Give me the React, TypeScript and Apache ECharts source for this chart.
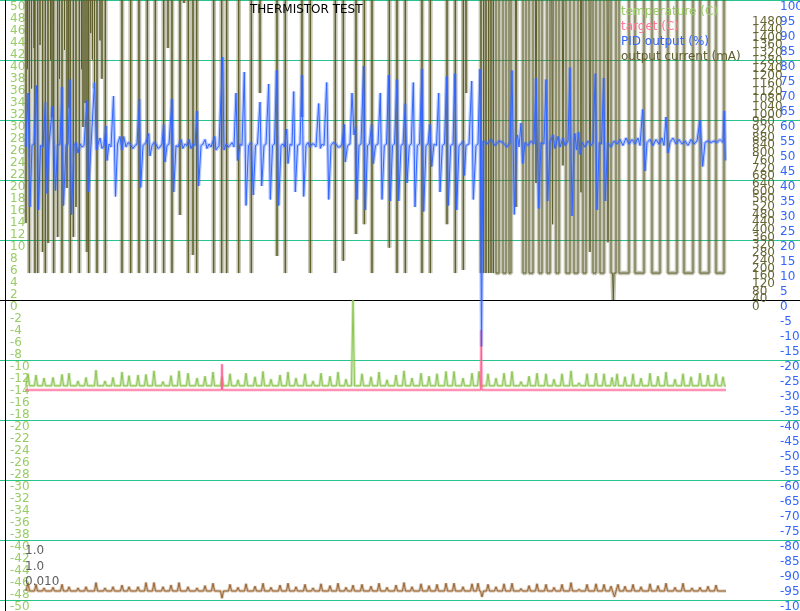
import React, { useEffect, useRef } from "react";
import * as echarts from "echarts";

const FONT = "DejaVu Sans, Verdana, sans-serif";

// x unit: sample time (t), y units: per axis
const TEMP_BASE = -14.3;
const tempSpikes: [number, number][] = [
  [3, -12.3], [11, -12.5], [19, -13.0], [28, -12.9], [37, -12.4], [44, -12.2], [53, -13.5], [61, -12.9],
  [71, -11.7], [80, -13.5], [88, -12.9], [97, -12.0], [104, -12.6], [113, -12.5], [121, -12.4], [129, -11.8],
  [138, -13.6], [146, -12.6], [154, -11.8], [163, -12.2], [172, -13.0], [180, -12.7], [188, -12.0], [197, -12.8],
  [205, -12.3], [213, -13.3], [221, -12.2], [230, -12.8], [238, -11.9], [246, -13.2], [255, -12.5], [263, -12.0],
  [271, -13.0], [280, -12.3], [288, -13.5], [296, -12.2], [305, -12.7], [313, -12.0], [321, -13.2], [328, 0.0],
  [337, -12.3], [346, -12.8], [354, -12.0], [362, -13.3], [371, -12.5], [379, -11.8], [387, -13.0], [396, -12.2],
  [404, -12.7], [412, -12.3], [421, -11.9], [429, -11.9], [438, -13.0], [447, -12.2], [454, -11.9], [463, -12.3],
  [471, -13.0], [479, -12.2], [487, -11.9], [496, -13.6], [504, -12.7], [512, -12.2], [521, -12.3], [529, -13.2],
  [537, -12.3], [546, -11.8], [554, -13.8], [562, -12.3], [571, -12.2], [579, -12.3], [587, -12.9], [592, -12.3],
  [600, -12.8], [608, -12.3], [616, -13.0], [625, -12.2], [633, -12.7], [641, -12.0], [650, -13.2], [658, -12.3],
  [666, -12.8], [675, -12.2], [683, -12.5], [691, -12.3], [698, -12.8],
];

const BROWN_BASE = -48.5;
const brownSpikes: [number, number][] = [
  [3, -47.2], [11, -47.4], [19, -48.0], [28, -47.9], [37, -47.4], [44, -47.8], [53, -48.0], [61, -47.8],
  [71, -47.1], [80, -48.0], [88, -47.8], [97, -47.5], [104, -47.8], [113, -47.8], [121, -47.1], [129, -47.1],
  [138, -47.8], [146, -47.5], [154, -47.1], [163, -47.8], [172, -48.0], [180, -47.6], [188, -47.2], [197, -49.7],
  [205, -47.4], [213, -47.9], [221, -47.3], [230, -47.7], [238, -47.2], [246, -47.9], [255, -47.5], [263, -47.2],
  [271, -47.8], [280, -47.4], [288, -48.0], [296, -47.3], [305, -47.6], [313, -47.2], [321, -47.9], [328, -47.5],
  [337, -47.4], [346, -47.7], [354, -47.2], [362, -47.9], [371, -47.5], [379, -47.1], [387, -47.8], [396, -47.3],
  [404, -47.6], [412, -47.4], [421, -47.2], [429, -47.2], [438, -47.8], [447, -47.3], [453, -47.2], [457, -49.5],
  [463, -47.4], [471, -47.8], [479, -47.3], [487, -47.2], [496, -48.1], [504, -47.6], [512, -47.3], [521, -47.4],
  [529, -47.9], [537, -47.4], [546, -47.1], [554, -48.2], [562, -47.4], [571, -47.3], [579, -47.4], [586, -47.7],
  [589.5, -49.5], [593, -47.4], [600, -47.7], [608, -47.4], [616, -47.8], [625, -47.3], [633, -47.6], [641, -47.2],
  [650, -47.9], [658, -47.2], [667, -48.0], [675, -47.9], [683, -47.7], [691, -47.5],
];

const target: [number, number][] = [
  [0, -15], [196.5, -15], [197, -10.7], [197.5, -15], [455.7, -15], [456.2, -5], [456.9, -15], [701, -15],
];

const pidOutput: [number, number][] = [
  [1, 51], [3, 69], [5, 31], [7, 51.5], [9, 52], [11.5, 71.5], [13.5, 30], [15.5, 51.5], [18, 51], [20.5, 66], [22, 35.5],
  [24, 52], [27.5, 64.5], [30.5, 36.5], [32.5, 51.5], [35, 52], [37, 71], [38.5, 31.5], [41, 51.5], [43, 52], [45, 73.5],
  [46.5, 28.5], [49, 51.5], [51, 52.5], [53, 49], [55, 52], [57, 51], [59, 51.5], [62, 66.5], [63.5, 36], [66, 51.5],
  [69.5, 72.5], [71.5, 50], [73, 52], [75, 54], [77, 50.5], [79, 51.5], [81, 58], [82, 46.5], [84, 52], [86, 51],
  [88.5, 68], [90.5, 34.5], [92.5, 52], [95, 54.5], [97, 50], [98.7, 54.5], [101, 51], [103, 52.5], [105, 52], [108, 50.5],
  [110, 51.5], [112, 52], [114.5, 67], [115.7, 37.5], [118, 51.5], [121, 52.5], [123.7, 55.5], [125, 48], [127, 51.5],
  [129, 52.5], [131, 52], [133, 50.5], [135, 51], [137, 52], [138.7, 58.5], [140, 46], [142, 51.5], [144, 52], [147, 67],
  [148.7, 36], [151, 51.5], [153, 51], [156, 53.5], [158, 50.5], [160, 52], [162, 51.5], [164, 53.5], [166, 50.5],
  [168, 52], [170, 51.5], [172, 63], [173.7, 38], [176, 51.5], [178, 52], [180, 53.5], [182, 50.5], [184, 52], [186, 51],
  [189.7, 54.5], [191, 50], [194, 51.5], [197.7, 81], [199, 50], [201, 52], [203, 51], [205, 51.5], [207, 52.5], [209, 51],
  [211, 69], [212.7, 46.5], [215, 52], [217, 51.5], [219.3, 76], [221, 31.5], [223.5, 51.5], [226.3, 52.5], [228.3, 35],
  [230.5, 51.5], [232.5, 52], [235, 66], [236.7, 38], [239, 51.5], [241, 52], [243.7, 72], [245.3, 33.5], [247.5, 51.5],
  [249.5, 52], [251.7, 76.5], [253.7, 31.5], [256, 51.5], [258, 52], [259.5, 51], [261.7, 57], [263, 45.5], [265, 52],
  [267, 51.5], [268.7, 69.5], [270.3, 36], [272.5, 51.5], [275, 52], [277, 75], [278.7, 34.5], [281, 51.5], [283, 52.5],
  [285, 51], [287, 52], [289, 52], [291, 51], [293.7, 65.5], [295.3, 50.5], [297, 52], [299, 51.5], [301.7, 72.5],
  [303.7, 33.5], [306, 51.5], [308, 52.5], [311, 52], [313, 51], [315, 51], [317, 52], [319.3, 58.5], [320.3, 46],
  [322.5, 51.5], [325, 52], [327, 69], [329, 55], [330.5, 58], [332, 33.5], [334, 51.5], [336, 52], [338.7, 78],
  [340.3, 30], [342.5, 51.5], [344.5, 52], [346.7, 58.5], [348.3, 45.5], [350.5, 51.5], [353, 52], [355.3, 69],
  [357, 33.5], [359.3, 51.5], [361.5, 52], [363.7, 75], [365.3, 33], [367.5, 51.5], [369.5, 52], [372, 73.5], [373.7, 33],
  [376, 51.5], [378, 52], [380.3, 65.5], [382, 39], [384.3, 51.5], [386.3, 52], [388.3, 72.5], [390, 31], [392.3, 51.5],
  [394.5, 52], [397, 77], [398.7, 29.5], [401, 51.5], [403, 52], [405, 58.5], [406.7, 44.5], [409, 52], [411.5, 51.5],
  [413.7, 69], [415, 36], [417.3, 51.5], [419.5, 52], [421.7, 74.5], [423.3, 31.5], [425.7, 51.5], [428, 52], [430, 75.5],
  [431.7, 30], [434, 51.5], [436, 52], [438.3, 53], [439.3, 41.5], [441, 51.5], [444, 52], [446.7, 73], [448.3, 33.5],
  [451, 51.5], [453, 52], [455, 77], [456.5, -15.5], [458, 53], [462, 52], [466, 53.5], [470, 51.5], [474, 53],
  [478, 52.5], [482, 51], [485, 52.5], [487, 76.5], [489.3, 28.5], [491.5, 53.5], [492.5, 55], [494, 51], [496, 59],
  [497.7, 45.5], [500, 52.5], [503, 51.5], [506, 53], [509, 52], [511, 74], [513.7, 30.5], [516, 52.5], [519, 52],
  [521, 73.5], [522.7, 33], [525, 52.5], [528, 55], [530, 50.5], [533, 54.5], [535, 51], [538, 54], [540, 51.5],
  [543, 53], [545, 77.5], [547, 28], [549, 53], [550, 55.5], [551.5, 50], [553.7, 56], [555, 48.5], [557, 52.5],
  [560, 51], [563, 53], [566, 51.5], [568, 52.5], [570.3, 75.5], [572, 30], [574.3, 52.5], [576.5, 52], [578.7, 74],
  [580.3, 33], [582.5, 52.5], [586, 51], [589, 53], [592, 52], [595, 53.5], [598, 51.5], [601, 54], [604, 52],
  [607, 53.5], [610, 52], [613, 54], [615, 51.5], [617.7, 63.5], [620, 43], [622, 52.5], [625, 53.5], [628, 51.5],
  [631, 53.5], [634, 52], [637, 54], [639, 51.5], [641, 61], [643, 49], [645, 52.5], [648, 54], [651, 52], [654, 53.5],
  [657, 52], [660, 53], [663, 51.5], [666, 53.5], [669, 52], [672, 53], [675, 60], [677.7, 44.5], [680, 52.5], [683, 53],
  [686, 52.5], [689, 53], [692, 52.5], [695, 53.5], [698, 52.5], [699.3, 63], [700.3, 46.5],
];

const outputCurrent: [number, number][] = [
  [0, 3000], [0.8, 3000], [1, 400], [1.2, 3000], [2.3, 3000], [2.5, 1200], [2.7, 3000], [4.1, 3000], [4.3, 140], [4.5, 3000],
  [6.3, 3000], [6.5, 1100], [6.7, 3000], [8.8, 3000], [9, 1310],
  [9.2, 3000], [9.8, 3000], [10, 140], [10.2, 3000], [12.5, 3000], [12.7, 140], [12.9, 3000], [14.8, 3000], [15, 1326], [15.2, 3000],
  [17.5, 3000], [17.7, 250], [17.9, 3000], [20.1, 3000], [20.3, 140], [20.5, 3000], [22.8, 3000], [23, 296], [23.2, 3000],
  [25.3, 3000], [25.5, 1250], [25.7, 3000], [26.8, 3000], [27, 950], [27.2, 3000],
  [28.5, 3000], [28.7, 140], [28.9, 3000], [32.5, 3000], [32.7, 328], [32.9, 3000], [34.3, 3000], [34.5, 1150], [34.7, 3000],
  [36.8, 3000], [37, 140], [37.2, 3000], [39.3, 3000], [39.5, 1300], [39.7, 3000],
  [41.8, 3000], [42, 582], [42.2, 3000], [43.5, 3000], [43.7, 1000], [43.9, 3000],
  [45.1, 3000], [45.3, 140], [45.5, 3000], [48.1, 3000], [48.3, 328], [48.5, 3000],
  [50.8, 3000], [51, 484], [51.2, 3000], [54.1, 3000], [54.3, 140], [54.5, 3000], [56.3, 3000], [56.5, 1200], [56.7, 3000],
  [57.8, 3000], [58, 900], [58.2, 3000], [59.8, 3000], [60, 1024], [60.2, 3000],
  [61.8, 3000], [62, 250], [62.2, 3000], [63.5, 3000], [63.7, 140], [63.9, 3000], [65.5, 3000], [65.7, 1388], [65.9, 3000],
  [67.3, 3000], [67.5, 1250], [67.7, 3000], [69.3, 3000], [69.5, 1100], [69.7, 3000],
  [71.8, 3000], [72, 140], [72.2, 3000], [74.8, 3000], [75, 1350], [75.2, 3000], [76.8, 3000], [77, 1150], [77.2, 3000],
  [80.1, 3000], [80.3, 140], [80.5, 3000], [96.8, 3000], [97, 140], [97.2, 3000],
  [105.5, 3000], [105.7, 140], [105.9, 3000], [113.8, 3000], [114, 140], [114.2, 3000], [122.1, 3000], [122.3, 140],
  [122.5, 3000], [130.1, 3000], [130.3, 140], [130.5, 3000], [138.5, 3000], [138.7, 140], [138.9, 3000], [142.8, 3000],
  [143, 1310], [143.2, 3000], [146.8, 3000], [147, 140], [147.2, 3000], [154.8, 3000], [155, 442], [155.2, 3000],
  [158.8, 3000], [159, 1544], [159.2, 3000], [163.1, 3000], [163.3, 140], [163.5, 3000], [167.8, 3000], [168, 234],
  [168.2, 3000], [171.5, 3000], [171.7, 140], [171.9, 3000], [188.5, 3000], [188.7, 140], [188.9, 3000], [196.5, 3000],
  [196.7, 140], [196.9, 3000], [201.5, 3000], [201.7, 140], [201.9, 3000], [213.5, 3000], [213.7, 140], [213.9, 3000],
  [226.1, 3000], [226.3, 140], [226.5, 3000], [234.8, 3000], [235, 1076], [235.2, 3000], [251.8, 3000], [252, 229],
  [252.2, 3000], [260.1, 3000], [260.3, 140], [260.5, 3000], [276.8, 3000], [277, 952], [277.2, 3000], [285.1, 3000],
  [285.3, 140], [285.5, 3000], [310.1, 3000], [310.3, 140], [310.5, 3000], [318.1, 3000], [318.3, 204], [318.5, 3000],
  [330.8, 3000], [331, 343], [331.2, 3000], [339.1, 3000], [339.3, 394], [339.5, 3000], [346.8, 3000], [347, 140],
  [347.2, 3000], [364.1, 3000], [364.3, 272], [364.5, 3000], [371.8, 3000], [372, 140], [372.2, 3000], [380.1, 3000],
  [380.3, 140], [380.5, 3000], [396.8, 3000], [397, 140], [397.2, 3000], [405.1, 3000], [405.3, 140], [405.5, 3000],
  [421.8, 3000], [422, 394], [422.2, 3000], [430.1, 3000], [430.3, 140], [430.5, 3000], [438.1, 3000], [438.3, 156],
  [438.5, 3000], [440.8, 3000], [441, 1076], [441.2, 3000], [455.8, 3000], [456, 140], [456.2, 3000], [458.5, 3000],
  [458.7, 140], [458.9, 3000], [460.8, 3000], [461, 140], [461.2, 3000], [463.5, 3000], [463.7, 140], [463.9, 3000],
  [465.8, 3000], [466, 140], [466.2, 3000], [468.1, 3000], [468.3, 140], [468.5, 3000],
  [471, 3000], [471, 140], [474, 140], [474, 3000], [478, 3000], [478, 140], [481, 140], [481, 3000],
  [484, 3000], [484, 140], [486, 140], [486, 3000], [490, 3000], [491, 484], [492, 3000],
  [498, 3000], [498, 140], [501, 140], [501, 3000], [504, 3000], [504, 140], [508, 140], [508, 3000],
  [509.5, 3000], [511, 608], [512.5, 3000], [514, 3000], [514, 140], [517, 140], [517, 3000],
  [522, 3000], [522, 140], [525, 140], [525, 3000], [526, 3000], [527.5, 394], [529, 3000],
  [531, 3000], [531, 140], [534, 140], [534, 3000], [536, 3000], [538, 700], [540, 3000],
  [541, 3000], [541, 140], [545, 140], [545, 3000], [549, 3000], [549, 140], [553, 140], [553, 3000],
  [555, 3000], [556, 560], [557, 3000], [558, 3000], [558, 140], [561, 140], [561, 3000],
  [563, 3000], [565, 250], [567, 3000], [568, 3000], [568, 140], [571, 140], [571, 3000],
  [575, 3000], [575, 140], [579, 140], [579, 3000], [581, 3000], [583, 300], [585, 3000],
  [586, 3000], [586, 140], [587.6, 140], [588.3, 0], [589, 140], [591, 140], [591, 3000],
  [594, 3000], [594, 140], [604, 140], [604, 3000], [610, 3000], [610, 140], [619, 140], [619, 3000],
  [627, 3000], [627, 140], [635, 140], [635, 3000], [643, 3000], [643, 140], [652, 140], [652, 3000],
  [659, 3000], [659, 140], [668, 140], [668, 3000], [675, 3000], [675, 140], [684, 140], [684, 3000],
  [691, 3000], [691, 140], [699, 140], [699, 3000], [701, 3000],
];

const pidNotes = ["1.0", "1.0", "0.010"];

function spikeLine(start: number, end: number, base: number, spikes: [number, number][]) {
  const pts: [number, number][] = [[start, base]];
  for (const [t, v] of spikes) {
    pts.push([t - 1.5, base], [t, v], [t + 1.5, base]);
  }
  pts.push([end, base]);
  return pts;
}

const GREEN = "#8cc653";
const PINK = "#ff5f92";
const BLUE = "#3366ff";
const OLIVE = "#5e5e2c";
const BROWN = "#9a6634";
const GRID = "#28c48c";
const W = 800;
const H = 611;

export default function App() {
  const ref = useRef<HTMLDivElement>(null);
  useEffect(() => {
    const chart = echarts.init(ref.current!, null, { renderer: "svg", width: W, height: H });
    const temperature = spikeLine(1, 701, TEMP_BASE, tempSpikes);
    const brown = spikeLine(1, 701, BROWN_BASE, brownSpikes);
    const line = (name: string, data: any, yAxisIndex: number, color: string, width: number, z: number) => ({
      name,
      type: "line",
      data,
      yAxisIndex,
      symbol: "none",
      showSymbol: false,
      silent: true,
      z,
      emphasis: { disabled: true },
      lineStyle: { color, width },
    });
    const grid0 = Array.from({ length: 11 }, (_, i) => (i === 5 ? "#000000" : GRID));
    chart.setOption({
      animation: false,
      textStyle: { fontFamily: FONT },
      title: {
        text: "THERMISTOR TEST",
        left: 250,
        top: 3,
        padding: 0,
        textStyle: { fontSize: 12, fontWeight: "normal", color: "#000", fontFamily: FONT },
      },
      legend: {
        orient: "vertical",
        left: 616,
        top: 3,
        padding: 0,
        itemGap: 0,
        itemWidth: 0,
        itemHeight: 0,
        icon: "rect",
        selectedMode: false,
        textStyle: { fontSize: 12, lineHeight: 15, fontFamily: FONT },
        data: [
          { name: "temperature (C)", textStyle: { color: "#99cc66" } },
          { name: "target (C)", textStyle: { color: "#ff7799" } },
          { name: "PID output (%)", textStyle: { color: BLUE } },
          { name: "output current (mA)", textStyle: { color: OLIVE } },
        ],
      },
      grid: { left: 0, right: 0, top: 0, bottom: 11, containLabel: false, outerBoundsMode: "none" },
      xAxis: { type: "value", min: -25, max: 775, show: false },
      yAxis: [
        {
          type: "value", position: "left", offset: -5, min: -50, max: 50, interval: 2,
          axisLine: { show: false }, axisTick: { show: false }, splitLine: { show: false },
          axisLabel: { inside: true, margin: 5, color: "#99cc66", fontSize: 12, verticalAlign: "top", fontFamily: FONT },
        },
        {
          type: "value", position: "left", min: -50, max: 50, interval: 10,
          axisLine: { show: false }, axisTick: { show: false }, axisLabel: { show: false },
          splitLine: { show: true, lineStyle: { color: grid0, width: 1 } },
        },
        {
          type: "value", position: "right", offset: -50, min: -1560, max: 1560, interval: 40,
          axisLine: { show: false }, axisTick: { show: false }, splitLine: { show: false },
          axisLabel: {
            margin: 2, color: "#666633", fontSize: 12, verticalAlign: "top", fontFamily: FONT,
            formatter: (v: number) => (v >= 0 && v <= 1480 ? String(v) : ""),
          },
        },
        {
          type: "value", position: "right", offset: -21, min: -100, max: 100, interval: 5,
          axisLine: { show: false }, axisTick: { show: false }, splitLine: { show: false },
          axisLabel: { margin: 1, color: BLUE, fontSize: 12, verticalAlign: "top", fontFamily: FONT },
        },
      ],
      graphic: [
        { type: "line", shape: { x1: 5.5, y1: 0, x2: 5.5, y2: H }, style: { stroke: "#000", lineWidth: 1 }, z: 100 },
        ...pidNotes.map((s, i) => ({
          type: "text",
          left: 25,
          top: 544 + i * 15.5,
          style: { text: s, fill: "#606060", font: `12px ${FONT}` },
          z: 100,
        })),
      ],
      series: [
        line("current-halo", outputCurrent, 2, "rgba(94,94,46,0.36)", 4.5, 1),
        line("output current (mA)", outputCurrent, 2, OLIVE, 1, 2),
        line("temperature-halo", temperature, 0, "rgba(140,198,83,0.4)", 3, 3),
        line("temperature (C)", temperature, 0, GREEN, 1, 4),
        line("target-halo", target, 0, "rgba(255,95,146,0.35)", 3, 5),
        line("target (C)", target, 0, PINK, 1, 6),
        line("pid-halo", pidOutput, 3, "rgba(51,102,255,0.35)", 3.5, 7),
        line("PID output (%)", pidOutput, 3, BLUE, 1, 8),
        line("brown-halo", brown, 0, "rgba(154,102,52,0.4)", 3, 3),
        line("derivative", brown, 0, BROWN, 1, 4),
      ],
    });
    return () => chart.dispose();
  }, []);
  return <div ref={ref} style={{ position: "fixed", left: 0, top: 0, width: W, height: H }} />;
}
